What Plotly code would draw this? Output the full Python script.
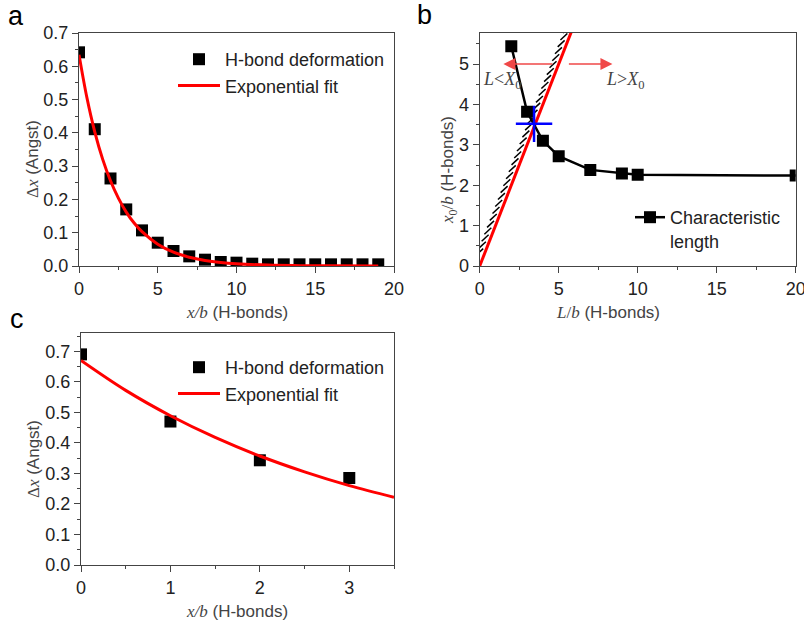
import plotly.graph_objects as go

# ---- data ----
xa = list(range(20))
ya = [0.642, 0.411, 0.263, 0.170, 0.107, 0.070, 0.045, 0.029, 0.019, 0.012,
      0.010, 0.007, 0.005, 0.005, 0.005, 0.005, 0.005, 0.005, 0.005, 0.005]
fit_xa = [0, 0.5, 1, 1.5, 2, 2.5, 3, 3.5, 4, 5, 6, 7, 8, 9, 10, 12, 14, 16, 19]
fit_ya = [0.635, 0.506, 0.403, 0.321, 0.256, 0.204, 0.162, 0.129, 0.103, 0.0655,
          0.0415, 0.0264, 0.0168, 0.0106, 0.0067, 0.0027, 0.0011, 0.0004, 0.0001]

Lb = [2, 3, 4, 5, 7, 9, 10, 20]
x0b = [5.44, 3.82, 3.10, 2.72, 2.38, 2.29, 2.26, 2.24]
diag_x = [0, 6.5]
diag_y = [0, 6.5]
hatch_offset = 0.35
cross_pt = ([3.44], [3.52])

xc = [0, 1, 2, 3]
yc = [0.69, 0.47, 0.343, 0.285]
fit_xc = [0, 0.5, 1, 1.5, 2, 2.5, 3, 3.5]
fit_yc = [0.67, 0.572, 0.489, 0.418, 0.357, 0.305, 0.260, 0.222]

W, H = 804, 625
def px(x): return x / W
def py(y): return 1 - y / H

SANS = "Liberation Sans, Arial, sans-serif"
SERIF = "Liberation Serif"
AXC = "#444444"
TXT = "#222222"

fig = go.Figure()

# panel a
fig.add_trace(go.Scatter(x=xa, y=ya, mode="markers", name="H-bond deformation",
                         marker=dict(symbol="square", size=12, color="black"),
                         xaxis="x", yaxis="y", legend="legend"))
fig.add_trace(go.Scatter(x=fit_xa, y=fit_ya, mode="lines", name="Exponential fit",
                         line=dict(color="#ff0000", width=3, shape="spline"),
                         xaxis="x", yaxis="y", legend="legend"))

# panel b: hatch marks along offset line
hx, hy = [], []
n = 32
x_end = 5.5
for i in range(n + 1):
    t = x_end * i / n
    cx, cy = t, t + hatch_offset
    hx += [cx - 0.22, cx + 0.22, None]
    hy += [cy - 0.08, cy + 0.08, None]
fig.add_trace(go.Scatter(x=hx, y=hy, mode="lines", line=dict(color="black", width=1.5),
                         showlegend=False, hoverinfo="skip", xaxis="x2", yaxis="y2"))
fig.add_trace(go.Scatter(x=diag_x, y=diag_y, mode="lines",
                         line=dict(color="#ff0000", width=3),
                         showlegend=False, xaxis="x2", yaxis="y2"))
fig.add_trace(go.Scatter(x=Lb, y=x0b, mode="lines+markers", name="Characteristic<br>length",
                         line=dict(color="black", width=2.5),
                         marker=dict(symbol="square", size=12, color="black"),
                         xaxis="x2", yaxis="y2", legend="legend2"))
fig.add_trace(go.Scatter(x=cross_pt[0], y=cross_pt[1], mode="markers",
                         marker=dict(symbol="cross-thin", size=26, color="#0000ff",
                                     line=dict(color="#0000ff", width=2.5)),
                         showlegend=False, xaxis="x2", yaxis="y2"))

# panel c
fig.add_trace(go.Scatter(x=xc, y=yc, mode="markers", name="H-bond deformation",
                         marker=dict(symbol="square", size=12, color="black"),
                         xaxis="x3", yaxis="y3", legend="legend3"))
fig.add_trace(go.Scatter(x=fit_xc, y=fit_yc, mode="lines", name="Exponential fit",
                         line=dict(color="#ff0000", width=3, shape="spline"),
                         xaxis="x3", yaxis="y3", legend="legend3"))

def xax(domain, anchor, rng, dtick, mdtick):
    return dict(domain=domain, anchor=anchor, range=rng, dtick=dtick, tick0=0,
                showline=True, linecolor=AXC, linewidth=1, mirror=True,
                ticks="outside", ticklen=6, tickcolor=AXC, showgrid=False, zeroline=False,
                automargin=False, ticklabeloverflow="allow",
                tickfont=dict(family=SANS, size=18, color=TXT),
                minor=dict(dtick=mdtick, tick0=0, ticks="outside", ticklen=3, tickcolor=AXC))

def yax(domain, anchor, rng, dtick, mdtick, fmt=None):
    d = xax(domain, anchor, rng, dtick, mdtick)
    if fmt:
        d["tickformat"] = fmt
    return d

legfont = dict(family=SANS, size=18, color=TXT)

fig.update_layout(
    width=W, height=H, margin=dict(l=0, r=0, t=0, b=0, autoexpand=False),
    plot_bgcolor="white", paper_bgcolor="white",
    xaxis=xax([px(79), px(394)], "y", [0, 20], 5, 2.5),
    yaxis=yax([py(266), py(33)], "x", [0, 0.7], 0.1, 0.05, ".1f"),
    xaxis2=xax([px(479.7), px(795.7)], "y2", [0, 20], 5, 2.5),
    yaxis2=yax([py(266), py(33)], "x2", [0, 5.77], 1, 0.5),
    xaxis3=xax([px(81), px(394)], "y3", [0, 3.5], 1, 0.5),
    yaxis3=yax([py(565), py(333)], "x3", [0, 0.76], 0.1, 0.05, ".1f"),
    legend=dict(x=px(390), y=py(41), xanchor="right", yanchor="top",
                bgcolor="rgba(0,0,0,0)", font=legfont, itemwidth=42, tracegroupgap=0),
    legend2=dict(x=px(786), y=py(199), xanchor="right", yanchor="top", valign="top",
                 bgcolor="rgba(0,0,0,0)", font=legfont, itemwidth=30),
    legend3=dict(x=px(390), y=py(349), xanchor="right", yanchor="top",
                 bgcolor="rgba(0,0,0,0)", font=legfont, itemwidth=42),
)

ann = []
def A(x, y, text, size=17, angle=0, xanchor="center", family=SANS, color=AXC):
    ann.append(dict(x=px(x), y=py(y), xref="paper", yref="paper", text=text,
                    showarrow=False, textangle=angle, xanchor=xanchor, yanchor="middle",
                    font=dict(family=family, size=size, color=color)))

# panel labels
A(16, 16, "a", size=27, color="black")
A(424, 15, "b", size=27, color="black")
A(17, 319, "c", size=27, color="black")

# axis titles
sx = "<span style='font-family:Liberation Serif'>"
A(33, 159, sx + "Δ<i>x</i></span> (Angst)", angle=-90)
A(33, 459, sx + "Δ<i>x</i></span> (Angst)", angle=-90)
A(237, 312, sx + "<i>x/b</i></span> (H-bonds)")
A(237, 611, sx + "<i>x/b</i></span> (H-bonds)")
A(608, 312, sx + "<i>L</i>/<i>b</i></span> (H-bonds)")
A(449, 170, sx + "<i>x</i><sub>0</sub>/<i>b</i></span> (H-bonds)", angle=-90)

# L<X0 and L>X0
A(481, 80, "<i>L</i>&lt;<i>X</i><sub>0</sub>", size=18, xanchor="left", family=SERIF)
A(604, 80, "<i>L</i>&gt;<i>X</i><sub>0</sub>", size=18, xanchor="left", family=SERIF)

# red arrows
for tail, head in [((4.7, 5.0), (1.5, 5.0)), ((5.55, 5.0), (8.4, 5.0))]:
    ann.append(dict(x=head[0], y=head[1], ax=tail[0], ay=tail[1],
                    xref="x2", yref="y2", axref="x2", ayref="y2",
                    showarrow=True, arrowhead=2, arrowsize=1.6, arrowwidth=1.5,
                    arrowcolor="#f04848", text=""))

fig.update_layout(annotations=ann)
fig.write_html("out.html", config={"displayModeBar": False},
               post_script="document.body.style.margin='0';document.body.style.overflow='hidden';")
